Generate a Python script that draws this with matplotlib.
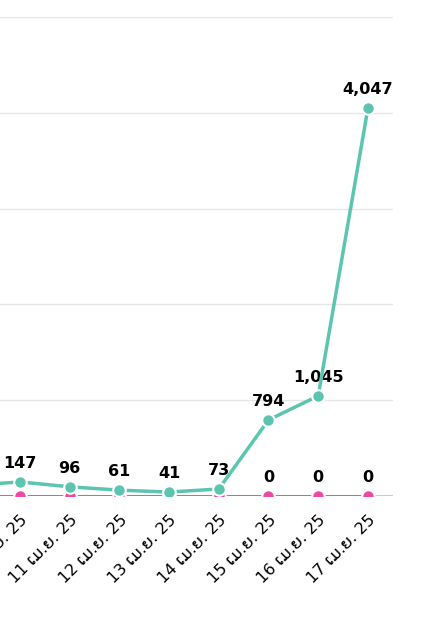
import matplotlib.pyplot as plt

dates = ["9 ເມ.ຍ. 25", "10 ເມ.ຍ. 25", "11 ເມ.ຍ. 25", "12 ເມ.ຍ. 25", "13 ເມ.ຍ. 25",
         "14 ເມ.ຍ. 25", "15 ເມ.ຍ. 25", "16 ເມ.ຍ. 25", "17 ເມ.ຍ. 25"]
green = [110, 147, 96, 61, 41, 73, 794, 1045, 4047]
pink = [0, 0, 0, 0, 0, 0, 0, 0, 0]

plt.rcParams['font.family'] = ['DejaVu Sans', 'Noto Sans']

fig = plt.figure(figsize=(4.28, 6.31), dpi=100)
ax = fig.add_axes([0, (631 - 496) / 631, 393 / 428, (496 - 17) / 631])
x = list(range(-1, len(dates) - 1))

ax.plot(x, pink, color="#e84aa6", lw=2, marker="o", ms=9, mec="white", mew=1.5, zorder=3)
ax.plot(x, green, color="#5cc5b0", lw=2.5, marker="o", ms=9, mec="white", mew=1.5, zorder=4)

for xi, v in zip(x, green):
    if xi >= 0:
        ax.annotate(f"{v:,}", (xi, v), xytext=(0, 8), textcoords="offset points",
                    ha="center", va="bottom", fontsize=11.5, fontweight="bold")
for xi, v, g in zip(x, pink, green):
    if g > 500:
        ax.annotate(f"{v:,}", (xi, v), xytext=(0, 8), textcoords="offset points",
                    ha="center", va="bottom", fontsize=11.5, fontweight="bold")

ax.set_yticks(range(0, 5001, 1000))
ax.yaxis.grid(True, color="#e6e6e6", lw=1)
ax.set_axisbelow(True)
ax.axhline(0, color="#cccccc", lw=1.5, zorder=1)
ax.tick_params(left=False, labelleft=False, bottom=False, pad=8)
ax.set_xticks(x)
ax.set_xticklabels(dates, rotation=45, ha="right", rotation_mode="anchor", fontsize=11.5)
ax.set_xlim(-0.402, 7.505)
ax.set_ylim(0, 5000)
for s in ax.spines.values():
    s.set_visible(False)

fig.savefig("out.png", dpi=100)
